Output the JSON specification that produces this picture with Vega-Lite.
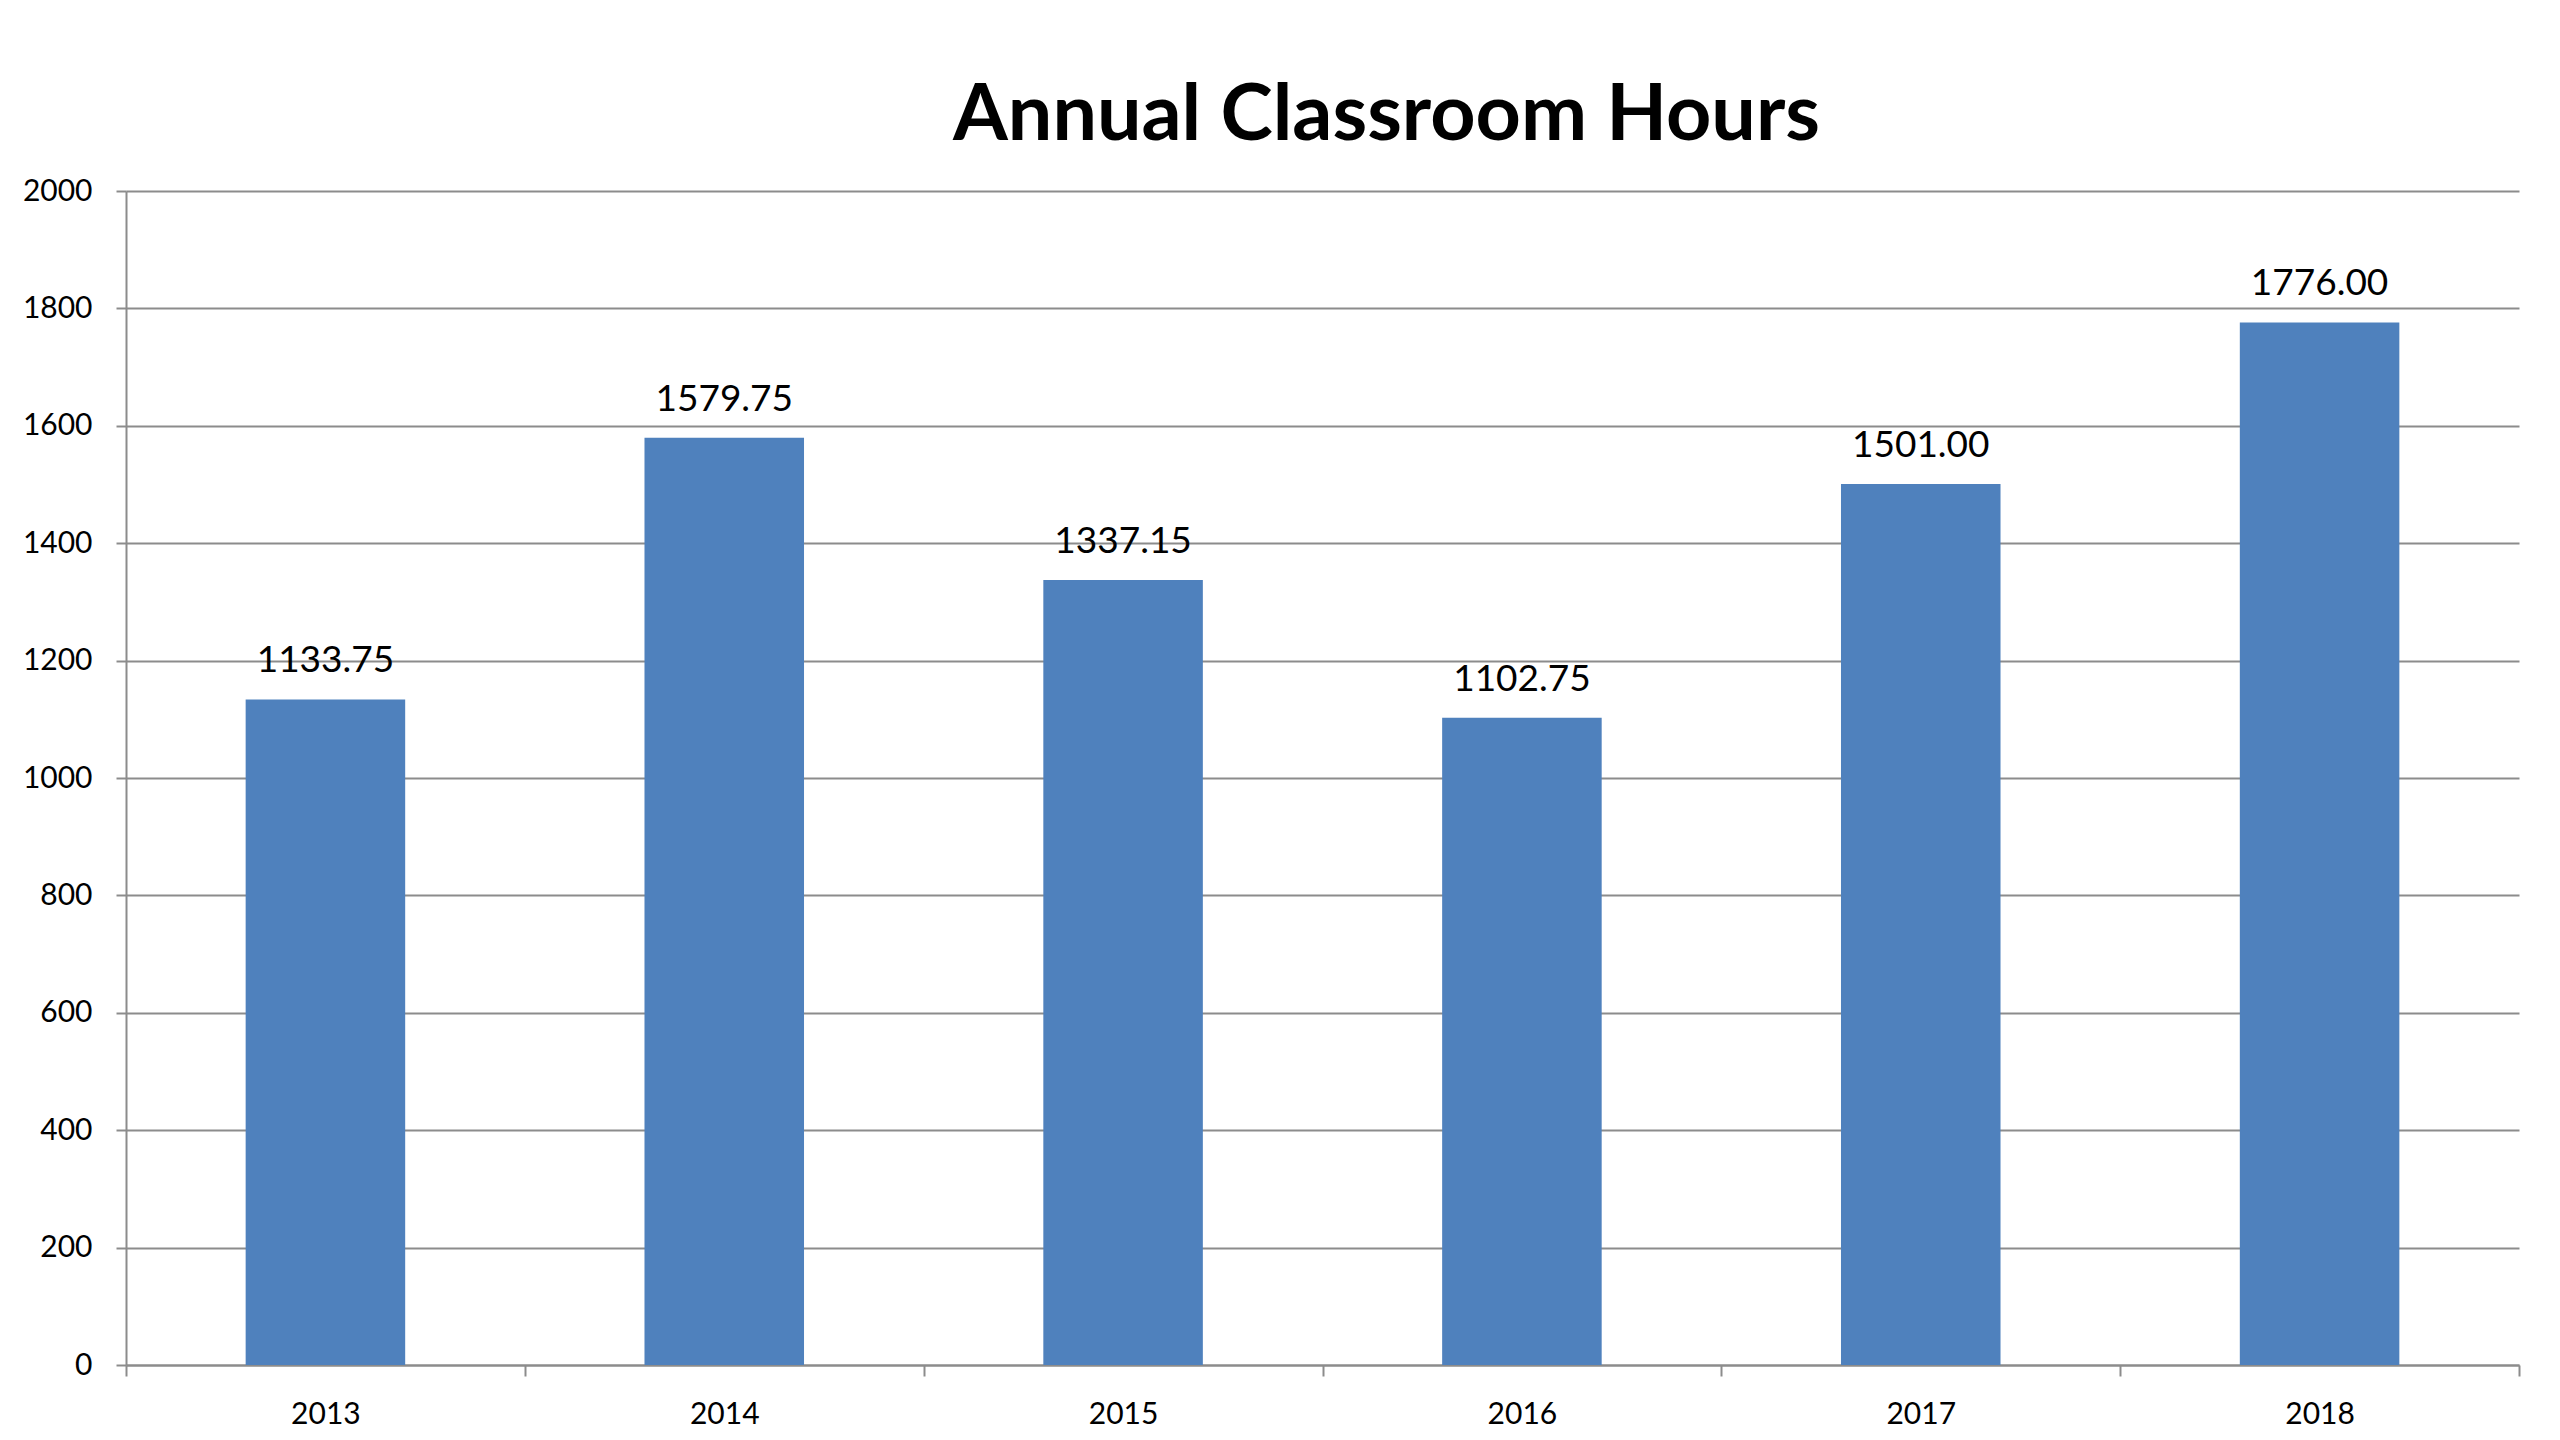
{
  "$schema": "https://vega.github.io/schema/vega-lite/v6.json",
  "autosize": {"type": "none"},
  "padding": {"left": 126, "top": 191, "right": 41, "bottom": 75},
  "width": 2393,
  "height": 1174,
  "background": "white",
  "title": {
    "text": "Annual Classroom Hours",
    "font": "Lato",
    "fontWeight": "bold",
    "fontSize": 79,
    "color": "#000000",
    "baseline": "alphabetic",
    "offset": -43,
    "dx": 64
  },
  "data": {
    "values": [
      {"year": "2013", "hours": 1133.75},
      {"year": "2014", "hours": 1579.75},
      {"year": "2015", "hours": 1337.15},
      {"year": "2016", "hours": 1102.75},
      {"year": "2017", "hours": 1501.00},
      {"year": "2018", "hours": 1776.00}
    ]
  },
  "encoding": {
    "x": {
      "field": "year",
      "type": "nominal",
      "title": null,
      "scale": {"paddingInner": 0, "paddingOuter": 0},
      "axis": {
        "labelAngle": 0,
        "labelFont": "Lato",
        "labelFontSize": 30,
        "labelColor": "#000000",
        "labelBaseline": "alphabetic",
        "labelPadding": 47,
        "tickBand": "extent",
        "tickSize": 11,
        "tickWidth": 2,
        "tickColor": "#8c8c8c",
        "domainColor": "#8c8c8c",
        "domainWidth": 2,
        "grid": false
      }
    },
    "y": {
      "field": "hours",
      "type": "quantitative",
      "title": null,
      "scale": {"domain": [0, 2000], "nice": false},
      "axis": {
        "values": [0, 200, 400, 600, 800, 1000, 1200, 1400, 1600, 1800, 2000],
        "format": "d",
        "labelFont": "Lato",
        "labelFontSize": 30,
        "labelColor": "#000000",
        "labelPadding": 24,
        "labelBaseline": "middle",
        "tickSize": 10,
        "tickWidth": 2,
        "tickColor": "#8c8c8c",
        "domainColor": "#8c8c8c",
        "domainWidth": 2,
        "grid": true,
        "gridColor": "#8c8c8c",
        "gridWidth": 2,
        "gridOpacity": 1
      }
    }
  },
  "layer": [
    {
      "mark": {"type": "bar", "color": "#4F81BD", "width": {"band": 0.4}}
    },
    {
      "mark": {
        "type": "text",
        "font": "Lato",
        "fontSize": 37,
        "color": "#000000",
        "baseline": "alphabetic",
        "dy": -27
      },
      "encoding": {
        "text": {"field": "hours", "type": "quantitative", "format": ".2f"}
      }
    }
  ],
  "config": {"view": {"stroke": null}}
}
